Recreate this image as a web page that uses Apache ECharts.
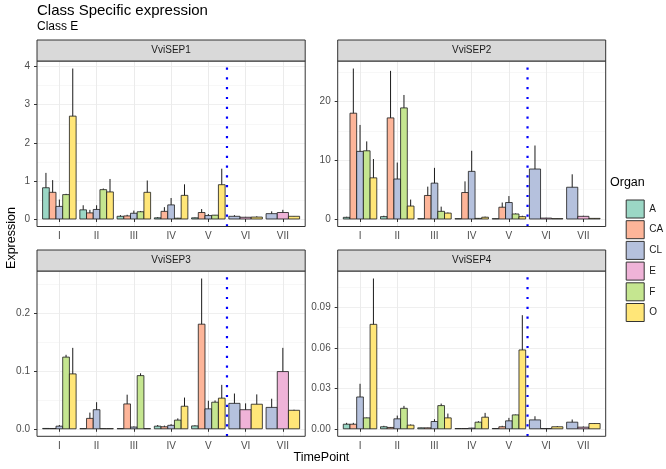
<!DOCTYPE html>
<html>
<head>
<meta charset="utf-8">
<script src="https://cdn.jsdelivr.net/npm/echarts@6/dist/echarts.min.js"></script>
<style>
  html, body { margin: 0; padding: 0; background: #fff; }
  #main { width: 666px; height: 469px; }
</style>
</head>
<body>
<div id="main"></div>
<script>
const timePoints = ["I", "II", "III", "IV", "V", "VI", "VII"];
const organs = ["A", "CA", "CL", "E", "F", "O"];
const organColors = ["#9BD7C5", "#FDB599", "#B5C1DD", "#EFB3D8", "#C5E690", "#FFE678"];
const genes = ["VviSEP1", "VviSEP2", "VviSEP3", "VviSEP4"];
const yTickStep = [1, 10, 0.1, 0.03];
const yTickDigits = [0, 0, 1, 2];
const vlineAfter = 4; // dotted line between V and VI

// rows follow organs: A, CA, CL, E, F, O ; columns follow timePoints
const sep1Mean = [
  [0.82, 0.24, 0.07, 0.03, 0.03, null, null],
  [0.70, 0.16, 0.08, 0.20, 0.17, null, null],
  [0.33, 0.25, 0.15, 0.37, 0.09, 0.07, 0.14],
  [null, null, null, null, null, 0.045, 0.17],
  [0.64, 0.77, 0.19, 0.02, 0.10, null, null],
  [2.70, 0.71, 0.70, 0.62, 0.90, 0.05, 0.07],
];
const sep1Sd = [
  [0.39, 0.12, 0.03, 0.02, 0.01, null, null],
  [0.32, 0.08, 0.03, 0.11, 0.09, null, null],
  [0.18, 0.11, 0.07, 0.18, 0.04, 0.03, 0.06],
  [null, null, null, null, null, 0.01, 0.07],
  [0.02, 0.03, 0.02, 0.01, 0.005, null, null],
  [1.25, 0.34, 0.31, 0.29, 0.42, 0.02, 0.005],
];
const sep2Mean = [
  [0.28, 0.4, 0.05, 0.05, 0.05, null, null],
  [18.0, 17.2, 4.0, 4.5, 2.0, null, null],
  [11.5, 6.8, 6.1, 8.1, 2.8, 8.5, 5.4],
  [null, null, null, null, null, 0.15, 0.45],
  [11.6, 18.9, 1.3, 0.1, 0.85, null, null],
  [7.0, 2.2, 1.0, 0.3, 0.4, 0.06, 0.1],
];
const sep2Sd = [
  [0.1, 0.15, 0.02, 0.02, 0.02, null, null],
  [7.6, 8.0, 1.5, 1.9, 0.8, null, null],
  [4.5, 2.8, 2.6, 3.5, 1.1, 4.0, 2.2],
  [null, null, null, null, null, 0.05, 0.1],
  [1.6, 2.2, 0.8, 0.05, 0.1, null, null],
  [3.2, 1.1, 0.1, 0.1, 0.15, 0.02, 0.03],
];
const sep3Mean = [
  [0.0006, 0.0003, 0.0003, 0.0045, 0.005, null, null],
  [0.0005, 0.018, 0.043, 0.0035, 0.181, null, null],
  [0.0045, 0.033, 0.003, 0.006, 0.0345, 0.044, 0.037],
  [null, null, null, null, null, 0.033, 0.099],
  [0.124, 0.0003, 0.092, 0.015, 0.046, null, null],
  [0.095, 0.0003, 0.0003, 0.039, 0.053, 0.0425, 0.032],
];
const sep3Sd = [
  [0.0002, 0.0001, 0.0001, 0.002, 0.001, null, null],
  [0.0002, 0.01, 0.016, 0.002, 0.079, null, null],
  [0.002, 0.013, 0.001, 0.002, 0.014, 0.017, 0.015],
  [null, null, null, null, null, 0.011, 0.041],
  [0.004, 0.0001, 0.004, 0.003, 0.003, null, null],
  [0.045, 0.0001, 0.0001, 0.015, 0.023, 0.017, 0.001],
];
const sep4Mean = [
  [0.0034, 0.0015, 0.0007, 0.0002, 0.0002, null, null],
  [0.0034, 0.001, 0.0007, 0.0002, 0.0015, null, null],
  [0.0236, 0.0074, 0.0054, 0.0005, 0.0059, 0.0066, 0.0049],
  [null, null, null, null, null, 0.0002, 0.0012],
  [0.0081, 0.0152, 0.0172, 0.0049, 0.0103, null, null],
  [0.0775, 0.0027, 0.0081, 0.0086, 0.0585, 0.0015, 0.0039],
];
const sep4Sd = [
  [0.001, 0.0007, 0.0002, 0.0001, 0.0001, null, null],
  [0.001, 0.0003, 0.0002, 0.0001, 0.0007, null, null],
  [0.0098, 0.0024, 0.0017, 0.0002, 0.0022, 0.0027, 0.002],
  [null, null, null, null, null, 0.0001, 0.0005],
  [0.0003, 0.0018, 0.0015, 0.0007, 0.0003, null, null],
  [0.034, 0.0005, 0.0032, 0.0032, 0.0258, 0.0005, 0.0002],
];

const means = [sep1Mean, sep2Mean, sep3Mean, sep4Mean];
const sds = [sep1Sd, sep2Sd, sep3Sd, sep4Sd];

// panel boxes in px (plot area, below the strip)
const panelBoxes = [
  { left: 37, right: 305.2, top: 61, bottom: 226.5 },
  { left: 337.7, right: 605.7, top: 61, bottom: 226.5 },
  { left: 37, right: 305.2, top: 271, bottom: 436.3 },
  { left: 337.7, right: 605.7, top: 271, bottom: 436.3 },
];
const stripH = 21;
const FONT = "Liberation Sans, Arial, sans-serif";

const grid = [];
const xAxis = [];
const yAxis = [];
const series = [];
const graphic = [];

panelBoxes.forEach((b, p) => {
  const unit = (b.right - b.left) / 7.2;
  const M = Math.max(
    ...means[p].flatMap((row, o) => row.map((v, i) => (v == null ? 0 : v + sds[p][o][i])))
  );
  const lo = -0.05 * M;
  const hi = 1.05 * M;
  const y0 = b.bottom - ((0.05 / 1.1) * (b.bottom - b.top));
  const step = yTickStep[p];
  const tickVals = [];
  for (let k = 0; k * step <= hi + 1e-12; k++) tickVals.push(+(k * step).toFixed(6));

  // data grid
  grid.push({ left: b.left + 0.1 * unit, width: 7 * unit, top: b.top, height: b.bottom - b.top });
  // background grid for horizontal lines / y labels
  grid.push({ left: b.left, width: b.right - b.left, top: b.top, height: y0 - b.top });

  xAxis.push({
    type: "category",
    gridIndex: 2 * p,
    data: timePoints,
    axisLine: { show: false },
    axisTick: { show: true, alignWithLabel: true, interval: 0, length: 3, lineStyle: { color: "#333", width: 1 } },
    axisLabel: { interval: 0, margin: 5, fontSize: 10, color: "#4D4D4D", fontFamily: FONT },
    splitLine: { show: true, alignWithLabel: true, interval: 0, lineStyle: { color: "#EBEBEB", width: 1 } },
  });
  xAxis.push({ type: "value", gridIndex: 2 * p + 1, show: false, min: 0, max: 1 });

  yAxis.push({ type: "value", gridIndex: 2 * p, show: false, min: lo, max: hi });
  yAxis.push({
    type: "value",
    gridIndex: 2 * p + 1,
    min: 0,
    max: hi,
    interval: step,
    axisLine: { show: false },
    axisTick: { show: true, length: 3, customValues: tickVals, lineStyle: { color: "#333", width: 1 } },
    axisLabel: {
      margin: 7,
      fontSize: 10,
      color: "#4D4D4D",
      fontFamily: FONT,
      customValues: tickVals,
      formatter: (v) => {
        const k = v / step;
        if (Math.abs(k - Math.round(k)) > 1e-6) return "";
        return (Math.round(k) * step).toFixed(yTickDigits[p]);
      },
    },
    splitLine: { show: true, lineStyle: { color: "#EBEBEB", width: 1 } },
  });
  yAxis.push({
    type: "value",
    gridIndex: 2 * p + 1,
    min: 0,
    max: hi,
    interval: step / 2,
    axisLine: { show: false },
    axisTick: { show: false },
    axisLabel: { show: false },
    splitLine: { show: true, lineStyle: { color: "#F2F2F2", width: 0.6 } },
  });

  // bars + error bars, dodged among organs present at each time point
  organs.forEach((org, o) => {
    const data = [];
    timePoints.forEach((tp, i) => {
      const v = means[p][o][i];
      if (v == null) return;
      const present = organs.map((_, k) => k).filter((k) => means[p][k][i] != null);
      data.push([i, v, sds[p][o][i], present.indexOf(o), present.length]);
    });
    series.push({
      type: "custom",
      name: org,
      xAxisIndex: 2 * p,
      yAxisIndex: 3 * p,
      itemStyle: { color: organColors[o] },
      encode: { x: 0, y: 1 },
      data: data,
      renderItem: function (params, api) {
        const xi = api.value(0);
        const mean = api.value(1);
        const sd = api.value(2);
        const rank = api.value(3);
        const n = api.value(4);
        const band = api.size([1, 0])[0];
        const base = api.coord([xi, 0]);
        const w = (band * 0.9) / n;
        const x0 = base[0] - band * 0.45 + rank * w;
        const top = api.coord([xi, mean])[1];
        const errTop = api.coord([xi, mean + sd])[1];
        return {
          type: "group",
          children: [
            {
              type: "rect",
              shape: { x: x0, y: top, width: w, height: base[1] - top },
              style: { fill: api.visual("color"), stroke: "#1a1a1a", lineWidth: 0.8 },
            },
            {
              type: "line",
              shape: { x1: x0 + w / 2, y1: top, x2: x0 + w / 2, y2: errTop },
              style: { stroke: "#1a1a1a", lineWidth: 1 },
            },
          ],
        };
      },
    });
  });

  // dotted separator between V and VI
  series.push({
    type: "custom",
    xAxisIndex: 2 * p,
    yAxisIndex: 3 * p,
    z: 5,
    data: [[vlineAfter, 0]],
    renderItem: function (params, api) {
      const band = api.size([1, 0])[0];
      const x = api.coord([api.value(0), 0])[0] + band / 2;
      const cs = params.coordSys;
      return {
        type: "line",
        shape: { x1: x, y1: cs.y + cs.height, x2: x, y2: cs.y },
        style: { stroke: "#0000FF", lineWidth: 2.2, lineDash: [2.2, 7.6] },
      };
    },
  });

  // panel border and strip
  graphic.push({
    type: "rect",
    z: 100,
    shape: { x: b.left, y: b.top, width: b.right - b.left, height: b.bottom - b.top },
    style: { fill: null, stroke: "#333", lineWidth: 1 },
  });
  graphic.push({
    type: "rect",
    z: 100,
    shape: { x: b.left, y: b.top - stripH, width: b.right - b.left, height: stripH },
    style: { fill: "#D9D9D9", stroke: "#333", lineWidth: 1 },
  });
  graphic.push({
    type: "text",
    z: 101,
    x: (b.left + b.right) / 2,
    y: b.top - stripH / 2,
    style: {
      text: genes[p],
      fill: "#1A1A1A",
      font: "10px " + FONT,
      align: "center",
      verticalAlign: "middle",
    },
  });
});

graphic.push(
  {
    type: "text",
    x: 37,
    y: 3,
    style: { text: "Class Specific expression", fill: "#000", font: "15px " + FONT, verticalAlign: "top" },
  },
  {
    type: "text",
    x: 37,
    y: 21,
    style: { text: "Class E", fill: "#000", font: "12px " + FONT, verticalAlign: "top" },
  },
  {
    type: "text",
    x: 321.4,
    y: 458,
    style: { text: "TimePoint", fill: "#000", font: "12.5px " + FONT, align: "center", verticalAlign: "middle" },
  },
  {
    type: "text",
    x: 12,
    y: 238,
    rotation: Math.PI / 2,
    style: { text: "Expression", fill: "#000", font: "12.5px " + FONT, align: "center", verticalAlign: "middle" },
  },
  {
    type: "text",
    x: 610,
    y: 183,
    style: { text: "Organ", fill: "#000", font: "12.5px " + FONT, verticalAlign: "middle" },
  }
);

const myChart = echarts.init(document.getElementById("main"));
myChart.setOption({
  animation: false,
  textStyle: { fontFamily: FONT },
  grid: grid,
  xAxis: xAxis,
  yAxis: yAxis,
  legend: {
    data: organs,
    orient: "vertical",
    left: 625.7,
    top: 199.5,
    width: 40,
    padding: 0,
    itemWidth: 18,
    itemHeight: 18,
    itemGap: 1.7,
    icon: "rect",
    selectedMode: false,
    itemStyle: { borderColor: "#333", borderWidth: 1 },
    textStyle: { fontSize: 10, color: "#1A1A1A", fontFamily: FONT, padding: 0, overflow: "none" },
  },
  graphic: graphic,
  series: series,
});

window.addEventListener("resize", function () {
  myChart.resize();
});
</script>
</body>
</html>
